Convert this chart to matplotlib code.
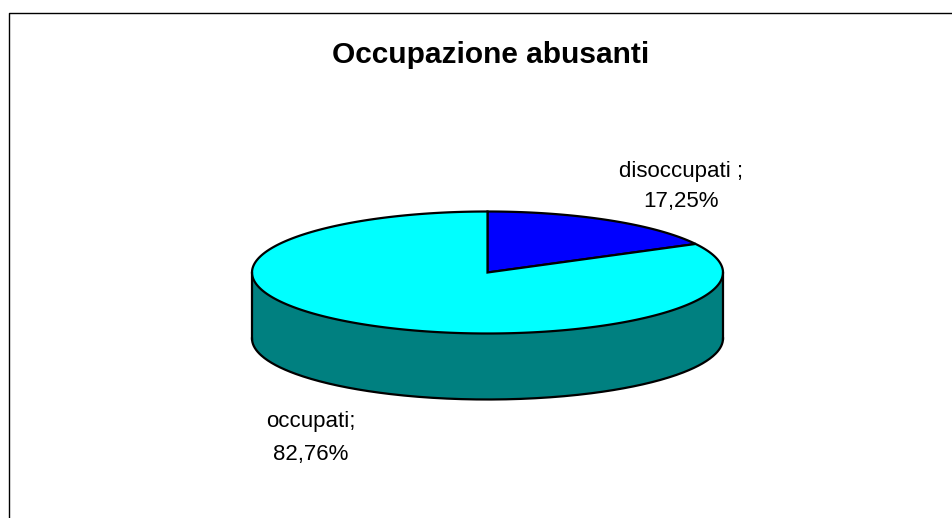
import numpy as np
import matplotlib
matplotlib.use("Agg")
import matplotlib.pyplot as plt
from matplotlib.patches import Polygon

plt.rcParams['font.family'] = ['Liberation Sans', 'DejaVu Sans']

# data
title = "Occupazione abusanti"
categories = ["disoccupati ;", "occupati;"]
values = [17.25, 82.76]
value_labels = ["17,25%", "82,76%"]
top_colors = ["#0000FF", "#00FFFF"]
side_colors = ["#000080", "#008080"]

# pie geometry in pixel space
cx, cy = 487.5, 272.5
a, b = 235.5, 61.0
depth = 66.0

fig = plt.figure(figsize=(9.53, 5.18), dpi=100)
ax = fig.add_axes([0, 0, 1, 1])
ax.set_xlim(0, 953)
ax.set_ylim(518, 0)
ax.axis('off')

# frame of the chart area (cut at right and bottom)
ax.plot([9, 9, 960], [530, 13, 13], color='black', lw=1.0, solid_capstyle='butt')


def ell(t, dy=0.0):
    return cx + a * np.cos(t), cy - b * np.sin(t) + dy


# slice angles, clockwise from 12 o'clock
fracs = np.array(values) / np.sum(values)
starts = np.pi / 2 - np.concatenate([[0], np.cumsum(fracs)[:-1]]) * 2 * np.pi
ends = starts - fracs * 2 * np.pi

# side walls (only front half, angles between -pi and 0)
for s, e, col in zip(starts, ends, side_colors):
    lo, hi = max(e, -np.pi), min(s, 0.0)
    # also handle wrap below -pi
    segs = []
    if hi > lo:
        segs.append((lo, hi))
    lo2, hi2 = max(e + 2 * np.pi, -np.pi), min(s + 2 * np.pi, 0.0)
    if hi2 > lo2:
        segs.append((lo2, hi2))
    lo3, hi3 = max(e, -np.pi - 0), min(s, -np.pi)
    for l, h in segs:
        t = np.linspace(l, h, 200)
        x1, y1 = ell(t)
        x2, y2 = ell(t[::-1], depth)
        ax.add_patch(Polygon(np.column_stack([np.r_[x1, x2], np.r_[y1, y2]]),
                             closed=True, facecolor=col, edgecolor='none'))

# side outline
t = np.linspace(-np.pi, 0, 300)
xb, yb = ell(t, depth)
ax.plot(xb, yb, color='black', lw=1.6)
for tt in (-np.pi, 0):
    x0, y0 = ell(tt)
    ax.plot([x0, x0], [y0, y0 + depth], color='black', lw=1.6)

# top wedges
for s, e, col in zip(starts, ends, top_colors):
    t = np.linspace(s, e, 400)
    x, y = ell(t)
    pts = np.column_stack([np.r_[cx, x], np.r_[cy, y]])
    ax.add_patch(Polygon(pts, closed=True, facecolor=col, edgecolor='black',
                         lw=1.6, joinstyle='miter'))

# labels
ax.text(490.5, 63, title, fontsize=21.5, fontweight='bold', ha='center',
        va='baseline')
label_pos = [(681, 177, 207), (311, 427, 460)]
for cat, vl, (lx, ly1, ly2) in zip(categories, value_labels, label_pos):
    ax.text(lx, ly1, cat, fontsize=16, ha='center', va='baseline')
    ax.text(lx, ly2, vl, fontsize=16, ha='center', va='baseline')

fig.savefig("out.png", dpi=100, facecolor='white')
